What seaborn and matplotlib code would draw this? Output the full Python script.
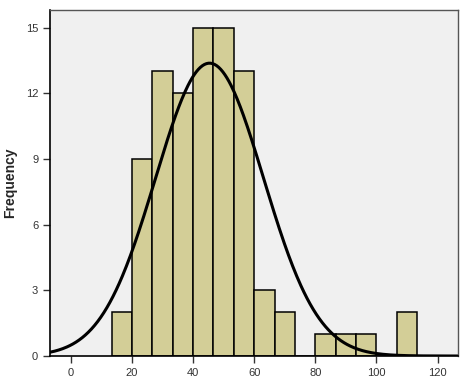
import numpy as np
import matplotlib
matplotlib.use("Agg")
import matplotlib.pyplot as plt
import seaborn as sns

# histogram bins (width 6.67) and counts
bin_edges = [13.33, 20.0, 26.67, 33.33, 40.0, 46.67, 53.33, 60.0, 66.67,
             73.33, 80.0, 86.67, 93.33, 100.0, 106.67, 113.33]
counts = [2, 9, 13, 12, 15, 15, 13, 3, 2, 0, 1, 1, 1, 0, 2]

# fitted normal curve parameters
mean = 45.4
std = 17.7
n = sum(counts)
bin_width = 6.667

x_ticks = [0, 20, 40, 60, 80, 100, 120]
y_ticks = [0, 3, 6, 9, 12, 15]

sns.set_style("ticks")
plt.rcParams['font.family'] = ['Liberation Sans', 'DejaVu Sans']

fig = plt.figure(figsize=(4.61, 3.86), dpi=100)
ax = fig.add_axes([0.1085, 0.0777, 0.885, 0.8963])
ax.set_facecolor('#f0f0f0')

centers = [(bin_edges[i] + bin_edges[i + 1]) / 2 for i in range(len(counts))]
sns.histplot(x=centers, weights=counts, bins=bin_edges, color='#d3ce97',
             edgecolor='black', linewidth=1.1, alpha=1, ax=ax)

# normal curve
xs = np.linspace(-7, 127, 400)
ys = n * bin_width * np.exp(-0.5 * ((xs - mean) / std) ** 2) / (std * np.sqrt(2 * np.pi))
sns.lineplot(x=xs, y=ys, color='black', linewidth=2.2, ax=ax)

ax.set_xlim(-6.8, 126.7)
ax.set_ylim(0, 15.8)
ax.set_xticks(x_ticks)
ax.set_yticks(y_ticks)
ax.tick_params(labelsize=8, length=5, width=1, colors='#333333')
ax.set_xlabel('')
ax.set_ylabel('Frequency', fontsize=10, fontweight='bold', labelpad=6)

for s in ['left', 'bottom']:
    ax.spines[s].set_color('black')
    ax.spines[s].set_linewidth(1.2)
for s in ['top', 'right']:
    ax.spines[s].set_color('#555555')
    ax.spines[s].set_linewidth(1)

fig.savefig('out.png', dpi=100)
